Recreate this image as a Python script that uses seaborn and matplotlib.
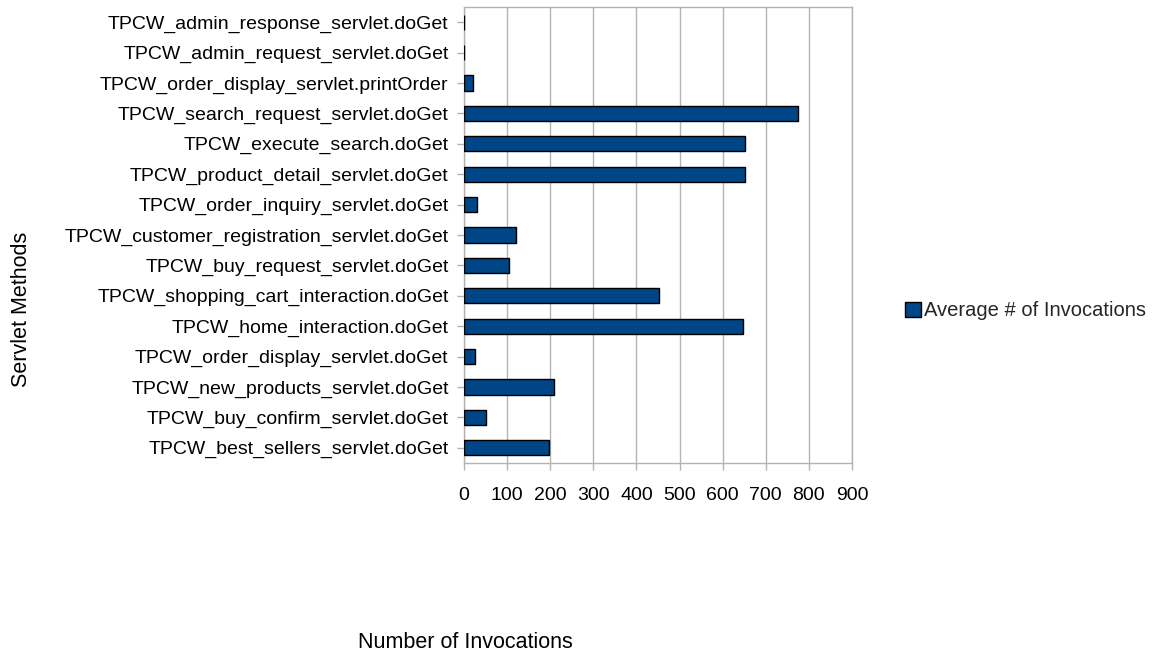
import matplotlib
matplotlib.use("Agg")
import matplotlib.pyplot as plt
import seaborn as sns
import pandas as pd
from matplotlib.patches import Patch

methods = [
    "TPCW_admin_response_servlet.doGet",
    "TPCW_admin_request_servlet.doGet",
    "TPCW_order_display_servlet.printOrder",
    "TPCW_search_request_servlet.doGet",
    "TPCW_execute_search.doGet",
    "TPCW_product_detail_servlet.doGet",
    "TPCW_order_inquiry_servlet.doGet",
    "TPCW_customer_registration_servlet.doGet",
    "TPCW_buy_request_servlet.doGet",
    "TPCW_shopping_cart_interaction.doGet",
    "TPCW_home_interaction.doGet",
    "TPCW_order_display_servlet.doGet",
    "TPCW_new_products_servlet.doGet",
    "TPCW_buy_confirm_servlet.doGet",
    "TPCW_best_sellers_servlet.doGet",
]
invocations = [1, 1, 20, 774, 652, 652, 31, 120, 104, 452, 648, 26, 209, 50, 197]
series_name = "Average # of Invocations"
x_ticks = [0, 100, 200, 300, 400, 500, 600, 700, 800, 900]

sns.set_style("white")
plt.rcParams['font.family'] = ['Liberation Sans', 'DejaVu Sans']

df = pd.DataFrame({"method": methods, "value": invocations})

W, H = 1159, 656
fig = plt.figure(figsize=(W / 100, H / 100), dpi=100)
ax = fig.add_axes([464 / W, 1 - 463 / H, (852 - 464) / W, (463 - 7) / H])

color = "#004586"
sns.barplot(data=df, x="value", y="method", orient="h", color=color,
            edgecolor="black", linewidth=1.0, width=0.5, ax=ax, zorder=3,
            saturation=1)

ax.set_xlim(0, 900)
ax.set_xticks(x_ticks)
ax.set_xticklabels([str(t) for t in x_ticks], fontsize=14, color="black")
ax.tick_params(axis="y", labelsize=14, colors="#b3b3b3", labelcolor="black",
               length=5, width=1, pad=6, left=True)
ax.tick_params(axis="x", colors="#b3b3b3", labelcolor="black",
               length=5, width=1, pad=12, bottom=True)
ax.xaxis.grid(True, color="#b3b3b3", linewidth=1, zorder=0)
ax.set_axisbelow(True)
for s in ax.spines.values():
    s.set_color("#b3b3b3")
    s.set_linewidth(1)
ax.set_xlabel("")
ax.set_ylabel("")

fig.text(465 / W, 1 - 643 / H, "Number of Invocations", ha="center", va="center",
         fontsize=15.5, color="black")
fig.text(22 / W, 1 - 309 / H, "Servlet Methods", ha="center", va="center",
         rotation=90, fontsize=15.5, color="black")

handle = Patch(facecolor=color, edgecolor="black", linewidth=1.0)
fig.legend([handle], [series_name], loc="center left",
           bbox_to_anchor=(905 / W, 1 - 311 / H), frameon=False, fontsize=14.5,
           handlelength=0.8, handleheight=0.8, handletextpad=0.15, borderpad=0,
           borderaxespad=0)

fig.savefig("out.png", dpi=100)
